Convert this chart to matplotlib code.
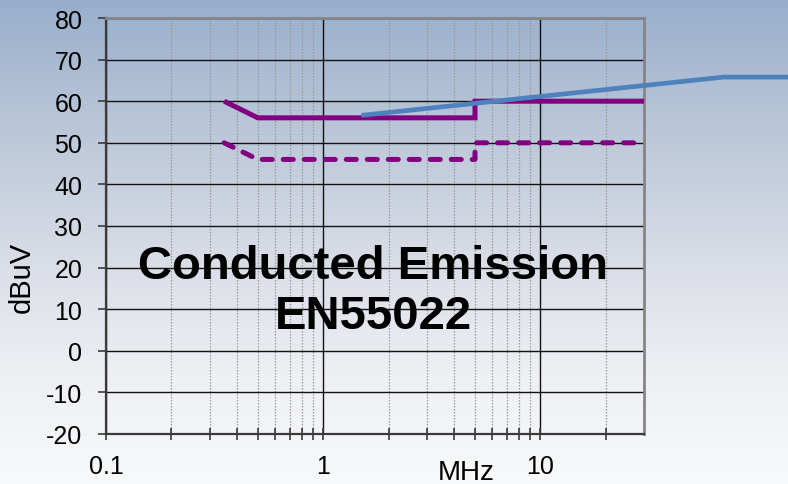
import numpy as np
import matplotlib
matplotlib.use("Agg")
import matplotlib.pyplot as plt
from matplotlib.colors import LinearSegmentedColormap
from matplotlib.ticker import FixedLocator, NullFormatter, FixedFormatter

plt.rcParams['font.family'] = ['Liberation Sans', 'DejaVu Sans']

# EN55022 limit lines (MHz, dBuV)
limit_freq = [0.35, 0.5, 5, 5, 30]
qp_limit = [60, 56, 56, 60, 60]
avg_limit = [50, 46, 46, 50, 50]

# Measured conducted emission (MHz, dBuV)
emission_freq = [1.5, 70, 300]
emission_level = [56.6, 65.8, 65.8]

y_ticks = [-20, -10, 0, 10, 20, 30, 40, 50, 60, 70, 80]
x_major = [0.1, 1, 10]
x_major_labels = ["0.1", "1", "10"]

W, H, DPI = 788, 485, 100
fig = plt.figure(figsize=(W / DPI, H / DPI), dpi=DPI)

# vertical background gradient over the whole figure
bg = fig.add_axes([0, 0, 1, 1], zorder=-10)
cmap = LinearSegmentedColormap.from_list(
    "bg", [(0.0, "#97aecb"), (0.21, "#b4c2d6"), (0.54, "#d9dde6"),
           (0.78, "#eef0f4"), (1.0, "#f8f9fa")], N=512)
grad = np.linspace(0, 1, 512).reshape(-1, 1)
bg.imshow(grad, aspect="auto", cmap=cmap, extent=[0, 1, 0, 1], origin="upper")
bg.set_axis_off()

ax = fig.add_axes([106 / W, 1 - 435 / H, (644 - 106) / W, (435 - 19) / H])
ax.patch.set_alpha(0)
ax.set_xscale("log")
ax.set_xlim(0.1, 30)
ax.set_ylim(-20, 80)

# ticks and grid
minor = [m * d for d in (0.1, 1, 10) for m in range(2, 10) if m * d < 30]
ax.xaxis.set_major_locator(FixedLocator(x_major))
ax.xaxis.set_major_formatter(FixedFormatter(x_major_labels))
ax.xaxis.set_minor_locator(FixedLocator(minor))
ax.xaxis.set_minor_formatter(NullFormatter())
ax.set_yticks(y_ticks)
ax.set_yticklabels([str(v) for v in y_ticks])

ax.grid(True, which="major", axis="both", color="#111111", lw=1.0)
ax.grid(True, which="minor", axis="x", color="#9a9a9a", lw=0.9, ls=(0, (1.2, 1.2)))
ax.set_axisbelow(True)

for side in ("top", "right"):
    ax.spines[side].set_color("#858585")
    ax.spines[side].set_linewidth(2.0)
for side in ("left", "bottom"):
    ax.spines[side].set_color("#3a3a3a")
    ax.spines[side].set_linewidth(1.6)

ax.tick_params(axis="y", which="major", direction="out", length=6, width=1.2,
               color="#3a3a3a", labelsize=18, pad=11)
ax.tick_params(axis="x", which="both", direction="inout", length=9, width=1.2,
               color="#3a3a3a", labelsize=18, pad=10)

# limit lines
ax.plot(limit_freq, qp_limit, color="#800080", lw=3.6,
        solid_capstyle="butt", solid_joinstyle="miter", clip_on=False, zorder=3)
ax.plot(limit_freq, avg_limit, color="#800080", lw=3.6,
        dashes=(2.0, 2.2), dash_capstyle="round", clip_on=False, zorder=3)

# emission trace
ax.plot(emission_freq, emission_level, color="#4f81bd", lw=3.4,
        solid_capstyle="butt", clip_on=False, zorder=4)

ax.text(373 / W, 1 - 292 / H, "Conducted Emission\nEN55022",
        transform=fig.transFigure, ha="center", va="center",
        fontsize=34, fontweight="bold", linespacing=1.15, zorder=5)

fig.text(466 / W, 1 - 473 / H, "MHz", ha="center", va="center", fontsize=20)
fig.text(22 / W, 1 - 277 / H, "dBuV", ha="center", va="center",
         rotation=90, fontsize=21)

fig.savefig("out.png", dpi=DPI)
